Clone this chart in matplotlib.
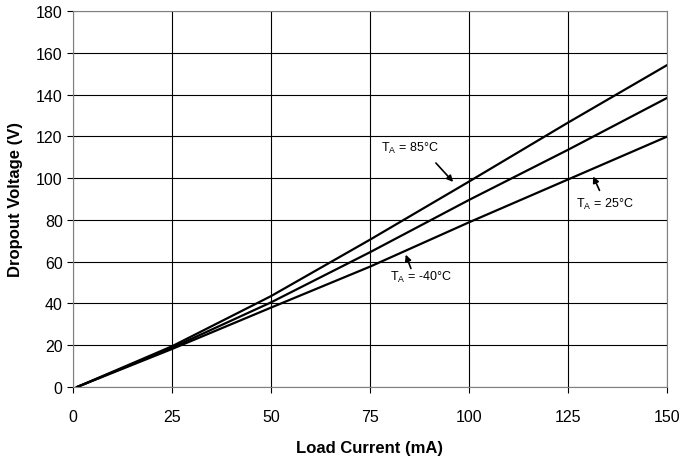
import matplotlib
matplotlib.use("Agg")
import matplotlib.pyplot as plt

# load current (mA) and dropout voltage for each temperature
load_ma = [1, 25, 50, 75, 100, 125, 150]
drop_85 = [0, 19.5, 43.5, 70.5, 98.3, 126.5, 154]
drop_25 = [0, 18.8, 40.5, 64.5, 89.5, 113.5, 138.3]
drop_m40 = [0, 18.2, 38, 57.6, 78.8, 99.3, 119.8]

x_ticks = [0, 25, 50, 75, 100, 125, 150]
y_ticks = [0, 20, 40, 60, 80, 100, 120, 140, 160, 180]

plt.rcParams['font.family'] = ['Liberation Sans', 'DejaVu Sans']

fig = plt.figure(figsize=(6.96, 4.6), dpi=100)
ax = fig.add_axes([0.105, 0.1565, 0.853, 0.8175])

for series in (drop_85, drop_25, drop_m40):
    ax.plot(load_ma, series, color='black', lw=1.6)

ax.set_xlim(0, 150)
ax.set_ylim(0, 180)
ax.set_xticks(x_ticks)
ax.set_yticks(y_ticks)
ax.grid(True, color='black', lw=0.8)
for s in ax.spines.values():
    s.set_color('#808080')
ax.tick_params(labelsize=11.5, length=4, color='black')
ax.tick_params(axis='x', pad=12)
ax.set_xlabel('Load Current (mA)', fontsize=12, fontweight='bold', labelpad=11)
ax.set_ylabel('Dropout Voltage (V)', fontsize=12, fontweight='bold', labelpad=9)

arrow = dict(arrowstyle='-|>', color='black', lw=1.2, mutation_scale=9)
ax.text(85.1, 114.9, 'T$_\\mathregular{A}$ = 85°C', ha='center', va='center', fontsize=9)
ax.annotate('', xy=(96.5, 97.2), xytext=(91.2, 108.2), arrowprops=arrow)
ax.text(134.3, 88, 'T$_\\mathregular{A}$ = 25°C', ha='center', va='center', fontsize=9)
ax.annotate('', xy=(131.1, 102), xytext=(133.3, 92.9), arrowprops=arrow)
ax.text(87.9, 52.7, 'T$_\\mathregular{A}$ = -40°C', ha='center', va='center', fontsize=9)
ax.annotate('', xy=(83.8, 64.6), xytext=(85.6, 55.5), arrowprops=arrow)

fig.savefig('out.png', dpi=100)
